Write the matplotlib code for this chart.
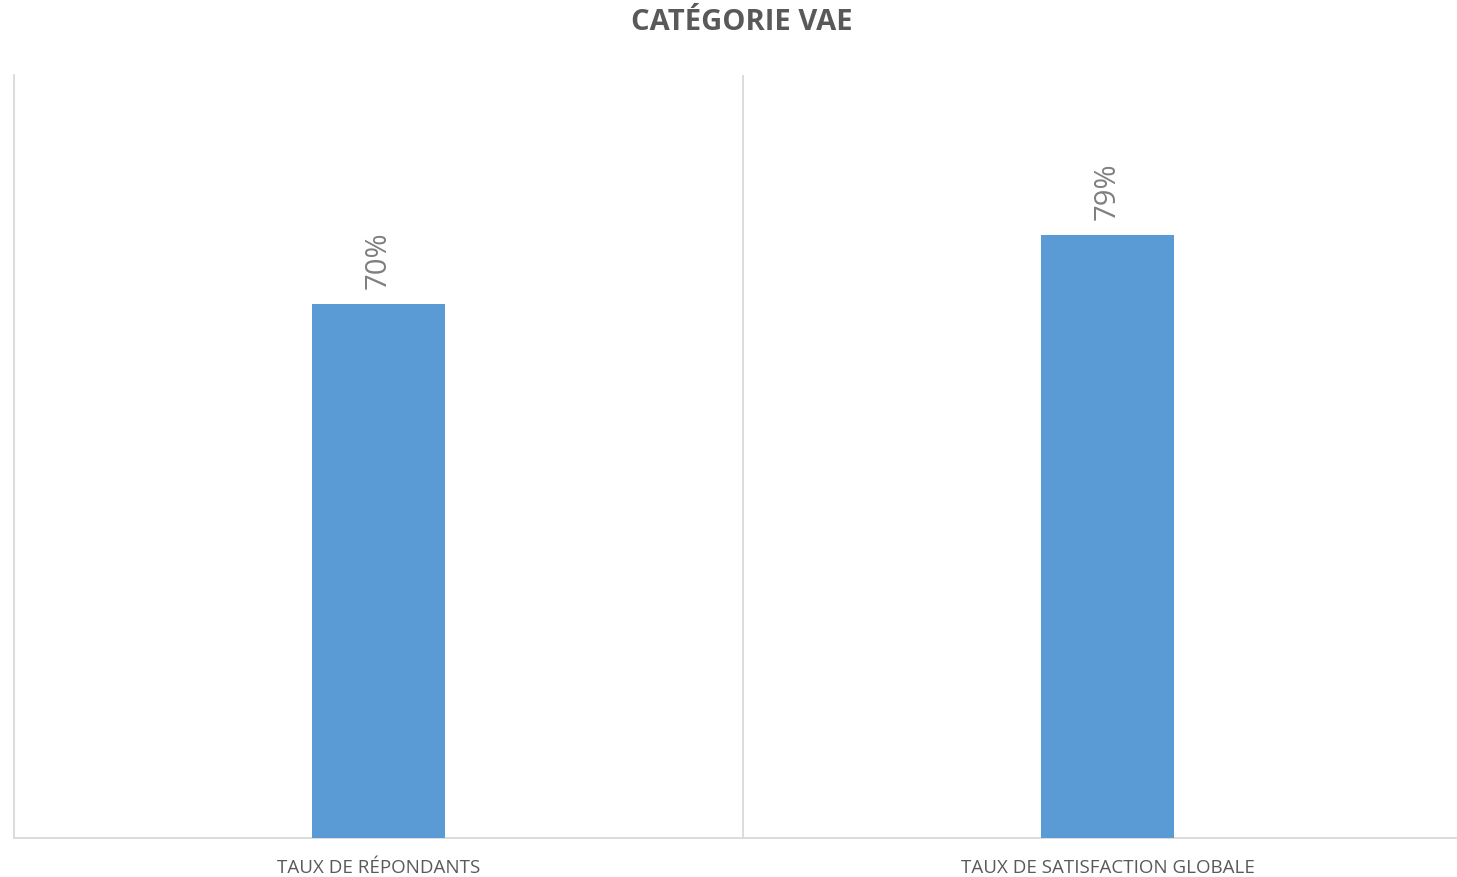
import matplotlib
matplotlib.use("Agg")
import matplotlib.pyplot as plt

categories = ["TAUX DE RÉPONDANTS", "TAUX DE SATISFACTION GLOBALE"]
values = [70, 79]
value_labels = ["70%", "79%"]
title = "CATÉGORIE VAE"

plt.rcParams['font.family'] = ['Open Sans', 'DejaVu Sans']

fig = plt.figure(figsize=(14.57, 8.77), dpi=100)
ax = fig.add_axes([14/1457, 39/877, 1458/1457, (838-75)/877])

x = list(range(len(categories)))
ax.bar(x, values, width=0.183, color="#5B9BD5", zorder=3)
ax.set_xlim(-0.5, len(categories) - 0.5)
ax.set_ylim(0, 100)

for xi, v, lab in zip(x, values, value_labels):
    ax.annotate(lab, (xi, v), xytext=(0, 11), textcoords="offset points",
                rotation=90, ha="center", va="bottom", fontsize=21, color="#7F7F7F")

for b in range(len(categories) - 1):
    ax.axvline(b + 0.5, color="#D9D9D9", linewidth=1.3, zorder=1)

for s in ["top", "right"]:
    ax.spines[s].set_visible(False)
for s in ["left", "bottom"]:
    ax.spines[s].set_color("#D9D9D9")
    ax.spines[s].set_linewidth(1.3)

ax.set_yticks([])
ax.set_xticks(x)
ax.set_xticklabels(categories, fontsize=13.5, color="#595959")
ax.tick_params(axis="x", length=0, pad=15)

fig.text(742/1457, 1 - 23/877, title, ha="center", va="center",
         fontsize=21, fontweight="bold", color="#595959")

fig.savefig("out.png", dpi=100, facecolor="white")
